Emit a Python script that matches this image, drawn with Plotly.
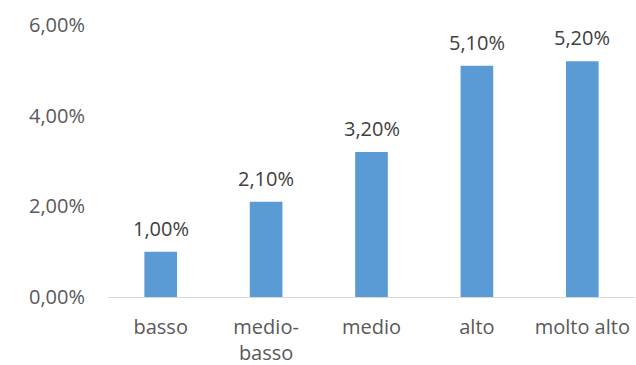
import plotly.graph_objects as go

categories = ["basso", "medio-<br>basso", "medio", "alto", "molto alto"]
values = [1.00, 2.10, 3.20, 5.10, 5.20]
y_ticks = [0, 2, 4, 6]
y_tick_labels = ["0,00%", "2,00%", "4,00%", "6,00%"]

bar_color = "#5B9BD5"
font_family = "'Open Sans', sans-serif"

fig = go.Figure(
    go.Bar(
        x=categories,
        y=values,
        marker=dict(color=bar_color, line=dict(width=0)),
        width=0.31,
        hoverinfo="skip",
    )
)

# value labels above each bar
for cat, v in zip(categories, values):
    fig.add_annotation(
        x=cat, y=v,
        text=f"{v:.2f}".replace(".", ",") + "%",
        showarrow=False,
        yanchor="bottom",
        yshift=8,
        font=dict(family=font_family, size=20, color="#404040"),
    )

fig.update_layout(
    width=636,
    height=365,
    margin=dict(l=108, r=1, t=25, b=68),
    paper_bgcolor="white",
    plot_bgcolor="white",
    showlegend=False,
    font=dict(family=font_family, size=20, color="#595959"),
    xaxis=dict(
        showline=True,
        linecolor="#D9D9D9",
        linewidth=1,
        showgrid=False,
        ticks="",
        ticklabelstandoff=12,
        automargin=False,
        tickfont=dict(size=20, color="#595959"),
    ),
    yaxis=dict(
        range=[0, 6],
        tickvals=y_ticks,
        ticktext=y_tick_labels,
        showgrid=False,
        zeroline=False,
        showline=False,
        ticks="",
        ticklabelstandoff=22,
        automargin=False,
        tickfont=dict(size=20, color="#595959"),
    ),
)

fig.write_html("out.html")
